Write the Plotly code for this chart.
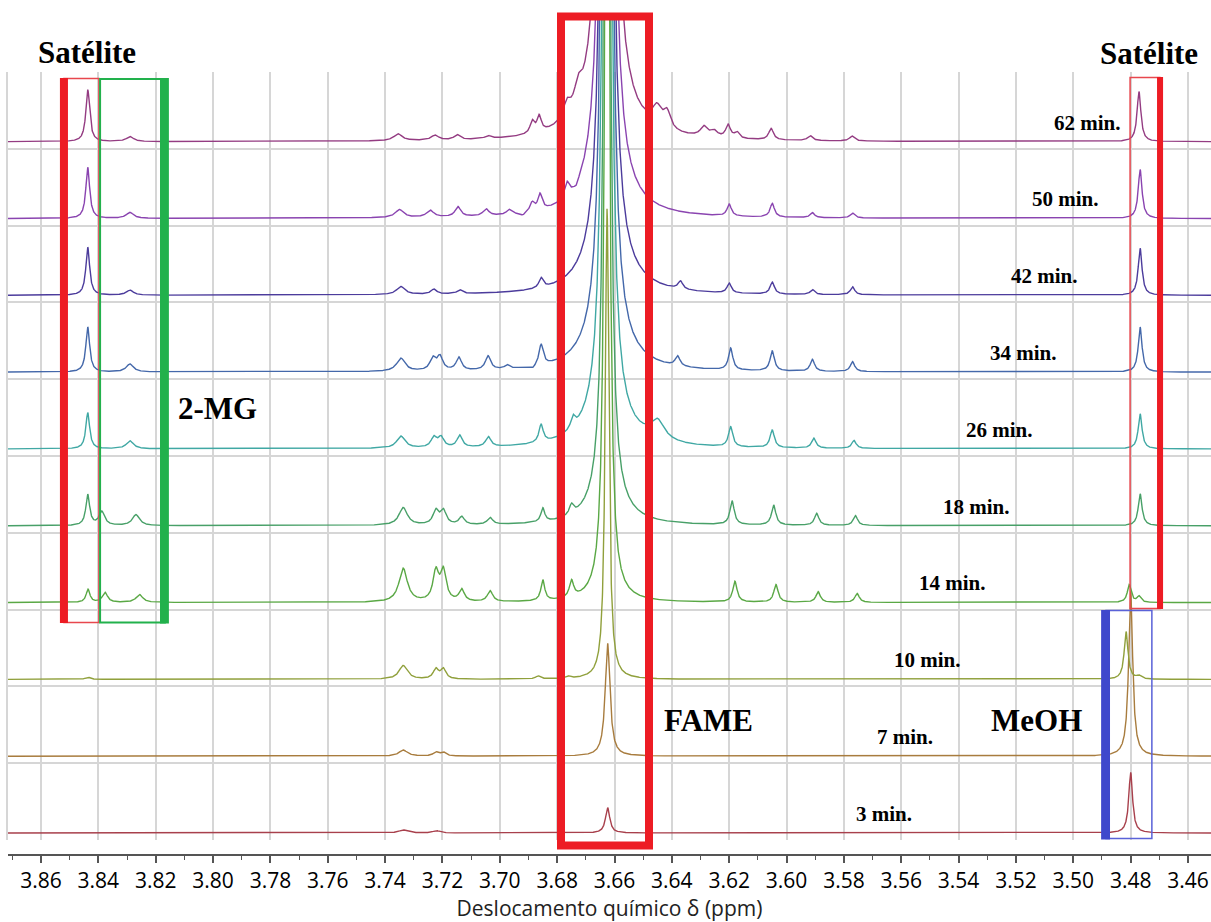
import numpy as np
import plotly.graph_objects as go

# ---------------------------------------------------------------- data
TIME_LABELS = ["3 min.", "7 min.", "10 min.", "14 min.", "18 min.",
               "26 min.", "34 min.", "42 min.", "50 min.", "62 min."]

LINE_COLORS = ["#a8404c", "#a87c3e", "#90a03c", "#5aa845", "#48a068",
               "#40a8a4", "#4468aa", "#4c3c9c", "#8a44b0", "#943c82"]

# peak tables: (chemical shift / ppm, intensity, line width FWHM / ppm)
PEAKS_3 = [
    (3.6624, 33, 0.0018), (3.4800, 79, 0.0016),
    (3.7337, 4, 0.0035), (3.7221, 3, 0.0030),
]
PEAKS_7 = [
    (3.6624, 147, 0.0020), (3.4800, 215, 0.0017),
    (3.7337, 8, 0.0035), (3.7223, 5, 0.0022), (3.7197, 5, 0.0022),
]
PEAKS_10 = [
    (3.6626, 613, 0.0015), (3.4816, 62, 0.0016), (3.4771, 4, 0.0020),
    (3.8437, 3, 0.0020), (3.7337, 18, 0.0035), (3.7223, 13, 0.0022),
    (3.7197, 13, 0.0022), (3.6867, 4, 0.0020), (3.6762, 3, 0.0020),
]
PEAKS_14 = [
    (3.8436, 17, 0.0016), (3.8377, 13, 0.0022), (3.8257, 10.4, 0.0028),
    (3.7337, 44, 0.0035), (3.7223, 38, 0.0024), (3.7197, 39, 0.0024),
    (3.7133, 15.6, 0.0022), (3.7034, 14.3, 0.0022), (3.6850, 27, 0.0016),
    (3.6750, 22, 0.0018), (3.6626, 1690, 0.0015), (3.6626, 10, 0.0120),
    (3.6180, 27, 0.0018), (3.6037, 23, 0.0018), (3.5890, 14, 0.0018),
    (3.5754, 11.7, 0.0018), (3.4805, 23, 0.0016), (3.4771, 8, 0.0016),
]
PEAKS_18 = [
    (3.8437, 40, 0.0016), (3.8388, 18, 0.0024), (3.8269, 14.3, 0.0030),
    (3.7337, 23, 0.0035), (3.7223, 18, 0.0024), (3.7197, 18, 0.0024),
    (3.7133, 10.4, 0.0022), (3.7034, 9, 0.0022), (3.6850, 18, 0.0016),
    (3.6750, 13, 0.0018), (3.6626, 2535, 0.0015), (3.6626, 30, 0.0140),
    (3.6190, 31, 0.0018), (3.6045, 26, 0.0018), (3.5895, 15.6, 0.0018),
    (3.5760, 13, 0.0018), (3.4767, 41.7, 0.0016),
]
PEAKS_26 = [
    (3.8437, 47, 0.0016), (3.8290, 10.4, 0.0030), (3.7345, 15.6, 0.0035),
    (3.7230, 13, 0.0024), (3.7205, 13, 0.0024), (3.7140, 15.6, 0.0022),
    (3.7040, 13, 0.0022), (3.6856, 23, 0.0018), (3.6745, 15, 0.0018),
    (3.6626, 3940, 0.0015), (3.6626, 45, 0.0160), (3.6450, 25, 0.0060),
    (3.6195, 26, 0.0018), (3.6050, 23, 0.0018), (3.5905, 13, 0.0018),
    (3.5765, 10.4, 0.0018), (3.4767, 45.6, 0.0016),
]
PEAKS_34 = [
    (3.8437, 58.6, 0.0016), (3.8290, 10.4, 0.0030), (3.7345, 17, 0.0035),
    (3.7234, 15.6, 0.0024), (3.7209, 18, 0.0024), (3.7143, 17, 0.0022),
    (3.7041, 18, 0.0022), (3.6975, 5, 0.0020), (3.6885, -4, 0.0020),
    (3.6856, 27, 0.0018), (3.6626, 5070, 0.0015), (3.6626, 40, 0.0160),
    (3.6380, 13, 0.0020), (3.6195, 28.6, 0.0018), (3.6050, 26, 0.0018),
    (3.5910, 15.6, 0.0018), (3.5770, 13, 0.0018), (3.4767, 58.6, 0.0016),
]
PEAKS_42 = [
    (3.8437, 62.5, 0.0016), (3.8290, 6.5, 0.0030), (3.7345, 10.4, 0.0035),
    (3.7230, 6.5, 0.0024), (3.7140, 5, 0.0022), (3.6856, 13, 0.0018),
    (3.6626, 5910, 0.0015), (3.6626, 40, 0.0160), (3.6370, 10.4, 0.0020),
    (3.6200, 13, 0.0018), (3.6050, 15.6, 0.0018), (3.5910, 6.5, 0.0018),
    (3.5770, 10.4, 0.0018), (3.4767, 61.2, 0.0016),
]
PEAKS_50 = [
    (3.8437, 66.4, 0.0016), (3.8290, 7.8, 0.0030), (3.7350, 10.4, 0.0035),
    (3.7243, 9, 0.0030), (3.7146, 13, 0.0024), (3.7048, 9, 0.0024),
    (3.6968, 6.5, 0.0020), (3.6920, -4, 0.0020), (3.6887, 11.7, 0.0018),
    (3.6860, 20.8, 0.0018), (3.6766, 19.5, 0.0020), (3.6734, -5, 0.0015),
    (3.6626, 6750, 0.0015), (3.6626, 40, 0.0160), (3.6200, 15.6, 0.0018),
    (3.6050, 18, 0.0018), (3.5910, 6.5, 0.0018), (3.5770, 6.5, 0.0018),
    (3.4767, 63.8, 0.0016),
]
PEAKS_62 = [
    (3.8437, 67.7, 0.0016), (3.8290, 6.5, 0.0030), (3.7355, 9, 0.0035),
    (3.7226, 6.5, 0.0030), (3.7149, 6.5, 0.0024), (3.7041, 3.9, 0.0024),
    (3.6887, 15.6, 0.0018), (3.6863, 20.8, 0.0018), (3.6766, 20, 0.0030),
    (3.6727, 25, 0.0030), (3.6626, 7600, 0.0015), (3.6626, 52, 0.0150),
    (3.6452, 25, 0.0040), (3.6417, 22, 0.0030), (3.6288, 13, 0.0030),
    (3.6253, 8, 0.0030), (3.6204, 17, 0.0020), (3.6173, 8, 0.0020),
    (3.6054, 15, 0.0020), (3.5918, 6.5, 0.0020), (3.5772, 6.5, 0.0020),
    (3.4771, 65.1, 0.0016),
]

SPECTRA = [PEAKS_3, PEAKS_7, PEAKS_10, PEAKS_14, PEAKS_18,
           PEAKS_26, PEAKS_34, PEAKS_42, PEAKS_50, PEAKS_62]

# ---------------------------------------------------------------- geometry
X_RANGE = [3.87151, 3.45198]          # ppm axis runs right to left
SLOT = 100.0                          # vertical offset between spectra
BASE = 9.1                            # baseline height inside a slot
W, H = 1211, 922
M_L, M_B = 8, 67
PAPER_H = H - M_B                     # 855 px of paper


def paper_y(px_from_top):
    return (PAPER_H - px_from_top) / PAPER_H


GRID_DOMAIN = [paper_y(840), paper_y(72)]
DATA_DOMAIN = [paper_y(840), paper_y(15)]
DATA_TOP = (840 - 15) / 0.768         # 76.8 px per slot


def lorentzian(x, center, height, fwhm):
    hw = fwhm / 2.0
    return height * hw ** 2 / ((x - center) ** 2 + hw ** 2)


ppm = np.linspace(X_RANGE[0], X_RANGE[1], 7000)

fig = go.Figure()
# empty traces so that the grid frame and the shift axis are laid out
fig.add_trace(go.Scatter(x=[], y=[], xaxis="x", yaxis="y",
                         showlegend=False, hoverinfo="skip"))
fig.add_trace(go.Scatter(x=[], y=[], xaxis="x3", yaxis="y",
                         showlegend=False, hoverinfo="skip"))

for i, (peaks, color, label) in enumerate(zip(SPECTRA, LINE_COLORS, TIME_LABELS)):
    y = np.full_like(ppm, i * SLOT + BASE)
    for c, h, w in peaks:
        y += lorentzian(ppm, c, h, w)
    fig.add_trace(go.Scatter(
        x=ppm, y=np.round(y, 2), mode="lines", name=label,
        line=dict(color=color, width=1.4),
        xaxis="x2", yaxis="y2", showlegend=False, hoverinfo="skip"))

# ---------------------------------------------------------------- boxes
RED, GREEN, BLUE = "#ed1c24", "#22b14c", "#3f48cc"
shapes = []


def bar(x0, x1, top, bottom, color):
    shapes.append(dict(type="rect", xref="x2", yref="paper", x0=x0, x1=x1,
                       y0=paper_y(bottom), y1=paper_y(top),
                       fillcolor=color, line=dict(width=0), layer="above"))


def frame(x0, x1, top, bottom, color, width):
    shapes.append(dict(type="rect", xref="x2", yref="paper", x0=x0, x1=x1,
                       y0=paper_y(bottom), y1=paper_y(top),
                       line=dict(color=color, width=width), layer="above"))


# left satellite (red) and 2-MG (green)
frame(3.8520, 3.8398, 78.5, 622.5, "#e8474e", 1.5)
bar(3.8534, 3.8506, 78, 623, RED)
frame(3.8394, 3.8168, 79, 622.5, GREEN, 2)
bar(3.8185, 3.8154, 78, 623.5, GREEN)
# FAME
frame(3.67866, 3.64797, 16.5, 845.5, RED, 8)
# right satellite
frame(3.4802, 3.4698, 77.5, 608.5, "#e8474e", 1.5)
bar(3.4708, 3.4687, 77, 609, RED)
# MeOH
frame(3.4886, 3.4726, 610.5, 838.5, "#5a62d8", 1.5)
bar(3.4903, 3.4872, 610, 839.5, BLUE)

# ---------------------------------------------------------------- labels
SERIF = "Liberation Serif, Times New Roman, serif"
annotations = []


def text(s, x, y_px, size):
    annotations.append(dict(text="<b>%s</b>" % s, xref="x2", yref="paper",
                            x=x, y=paper_y(y_px), showarrow=False,
                            xanchor="center", yanchor="middle",
                            font=dict(family=SERIF, size=size, color="#000")))


text("Satélite", 3.8440, 52, 31)
text("Satélite", 3.4736, 53, 31)
text("2-MG", 3.7983, 408, 31)
text("FAME", 3.6271, 720, 31)
text("MeOH", 3.5130, 720, 31)

LABEL_PPM = [3.5660, 3.5587, 3.5507, 3.5420, 3.5336,
             3.5256, 3.5175, 3.5099, 3.5026, 3.4949]
for i, (label, xp) in enumerate(zip(TIME_LABELS, LABEL_PPM)):
    annotations.append(dict(text="<b>%s</b>" % label, xref="x2", yref="y2",
                            x=xp, y=i * SLOT + BASE + 25, showarrow=False,
                            xanchor="center", yanchor="middle",
                            font=dict(family=SERIF, size=21, color="#000")))

# ---------------------------------------------------------------- layout
GRID = "#d6d6d6"
SANS = "Open Sans, DejaVu Sans, sans-serif"
fig.update_layout(
    width=W, height=H,
    margin=dict(l=M_L, r=0, t=0, b=M_B),
    paper_bgcolor="white", plot_bgcolor="rgba(0,0,0,0)",
    showlegend=False,
    shapes=shapes, annotations=annotations,
    # grid frame
    xaxis=dict(range=X_RANGE, domain=[0, 1], anchor="y",
               tickmode="linear", tick0=3.46, dtick=0.02,
               showgrid=True, gridcolor=GRID, gridwidth=2,
               showticklabels=False, ticks="", showline=False, zeroline=False),
    yaxis=dict(range=[0, 1000], domain=GRID_DOMAIN, anchor="x",
               tickmode="linear", tick0=0, dtick=100,
               showgrid=True, gridcolor=GRID, gridwidth=2,
               showticklabels=False, ticks="", zeroline=False,
               showline=True, linecolor=GRID, linewidth=2),
    # stacked spectra
    xaxis2=dict(range=X_RANGE, domain=[0, 1], anchor="y2",
                visible=False, showgrid=False, zeroline=False),
    yaxis2=dict(range=[0, DATA_TOP], domain=DATA_DOMAIN, anchor="x2",
                visible=False, showgrid=False, zeroline=False),
    # chemical-shift axis
    xaxis3=dict(range=X_RANGE, overlaying="x", anchor="free", position=0,
                side="bottom",
                tickmode="linear", tick0=3.46, dtick=0.02, tickformat=".2f",
                ticks="outside", ticklen=7, tickwidth=1.5, tickcolor="#555",
                showline=True, linecolor="#555", linewidth=1.5,
                showgrid=False, zeroline=False,
                minor=dict(dtick=0.01, ticks="outside", ticklen=4,
                           tickwidth=1.2, tickcolor="#555", showgrid=False),
                tickfont=dict(family=SANS, size=21, color="#000"),
                title=dict(text="Deslocamento químico δ (ppm)", standoff=3,
                           font=dict(family=SANS, size=21, color="#222"))),
)

fig.write_html("out.html")
